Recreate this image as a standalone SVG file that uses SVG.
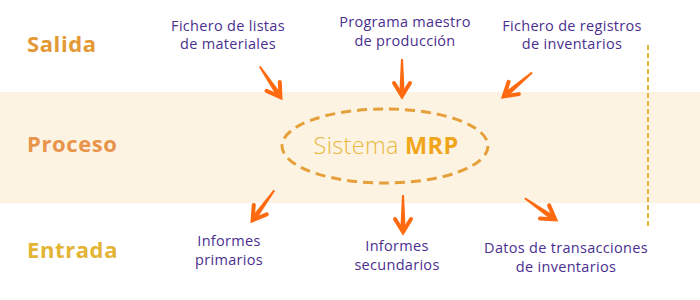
<svg xmlns="http://www.w3.org/2000/svg" width="700" height="300" viewBox="0 0 700 300">
<style>
.lbl{font-family:"Open Sans","Noto Sans",sans-serif;font-weight:700;font-size:22px;letter-spacing:0.6px}
.t{font-family:"Open Sans","Noto Sans",sans-serif;font-size:14.5px;fill:#4a2f8f;text-anchor:middle;letter-spacing:0.3px}
.arr{fill:#ff6a10}
.arrh{stroke:#ff6a10;stroke-width:4;stroke-linecap:round;fill:none}
</style>
<defs>
<g id="arrow">
<polygon class="arr" points="-1,-38 1,-38 2.6,-5 -2.6,-5"/>
<path class="arrh" d="M-8,-14 L0,-1 L8,-14"/>
</g>
</defs>
<rect width="700" height="300" fill="#ffffff"/>
<rect x="0" y="92" width="700" height="111" fill="#fdf3e3"/>
<line x1="648" y1="45" x2="648" y2="228" stroke="#e6b43c" stroke-width="2" stroke-dasharray="5 3"/>

<g id="row-labels">
<text class="lbl" x="27" y="52" fill="#e39a36">Salida</text>
<text class="lbl" x="27" y="152" fill="#e8944a">Proceso</text>
<text class="lbl" x="27" y="258" fill="#e2b535">Entrada</text>
</g>

<g id="mrp">
<ellipse cx="385" cy="146" rx="103" ry="37" fill="none" stroke="#e5a03a" stroke-width="3" stroke-dasharray="10 6"/>
<text x="386" y="154" text-anchor="middle" font-family="'Open Sans','Noto Sans',sans-serif" font-size="23.5px" letter-spacing="0.3"><tspan fill="#e9b73e" font-weight="300">Sistema </tspan><tspan fill="#f0a51a" font-weight="700">MRP</tspan></text>
</g>

<g id="n1"><text class="t" x="228" y="31">Fichero de listas</text><text class="t" x="228" y="49">de materiales</text></g>
<g id="n2"><text class="t" x="405" y="27">Programa maestro</text><text class="t" x="405" y="46">de producción</text></g>
<g id="n3"><text class="t" x="572" y="31">Fichero de registros</text><text class="t" x="572" y="49">de inventarios</text></g>
<g id="n4"><text class="t" x="229" y="246">Informes</text><text class="t" x="229" y="265">primarios</text></g>
<g id="n5"><text class="t" x="397" y="251">Informes</text><text class="t" x="397" y="270">secundarios</text></g>
<g id="n6"><text class="t" x="566" y="253">Datos de transacciones</text><text class="t" x="566" y="272">de inventarios</text></g>

<g id="connectors">
<use href="#arrow" transform="translate(281,98) rotate(-34)"/>
<use href="#arrow" transform="translate(402,97)"/>
<use href="#arrow" transform="translate(503,97) rotate(50)"/>
<use href="#arrow" transform="translate(252,221) rotate(36)"/>
<use href="#arrow" transform="translate(403,233)"/>
<use href="#arrow" transform="translate(556,220) rotate(-55)"/>
</g>
</svg>
